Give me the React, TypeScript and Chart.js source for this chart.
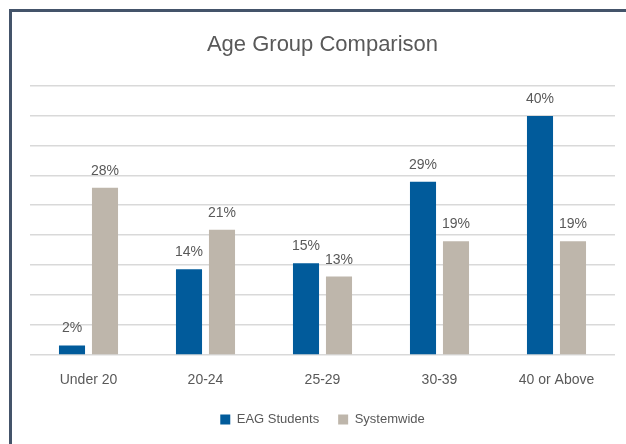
import React, { useEffect, useRef } from "react";
import { Chart, registerables } from "chart.js";

Chart.register(...registerables);

const categories: string[] = ["Under 20", "20-24", "25-29", "30-39", "40 or Above"];
const eagStudents: number[] = [1.6, 14.3, 15.3, 28.9, 39.9];
const systemwide: number[] = [27.9, 20.9, 13.1, 19.0, 19.0];
const seriesNames: string[] = ["EAG Students", "Systemwide"];
const chartTitle = "Age Group Comparison";

const TEXT = "#595959";
const FONT = "'Liberation Sans', Arial, sans-serif";

const dataLabelPlugin = {
  id: "dataLabels",
  afterDatasetsDraw(chart: any) {
    const ctx = chart.ctx;
    ctx.save();
    ctx.font = `14px ${FONT}`;
    ctx.fillStyle = TEXT;
    ctx.textAlign = "center";
    ctx.textBaseline = "alphabetic";
    chart.data.datasets.forEach((ds: any, di: number) => {
      const meta = chart.getDatasetMeta(di);
      meta.data.forEach((el: any, i: number) => {
        const v = ds.data[i] as number;
        ctx.fillText(`${Math.round(v)}%`, el.x, el.y - 13);
      });
    });
    ctx.restore();
  },
};

export default function App() {
  const ref = useRef<HTMLCanvasElement | null>(null);
  useEffect(() => {
    if (!ref.current) return;
    Chart.defaults.font.family = FONT;
    const chart = new Chart(ref.current, {
      type: "bar",
      data: {
        labels: categories,
        datasets: [
          {
            label: seriesNames[0],
            data: eagStudents,
            backgroundColor: "#015B9B",
            categoryPercentage: 0.564,
            barPercentage: 0.79,
          },
          {
            label: seriesNames[1],
            data: systemwide,
            backgroundColor: "#BEB6AB",
            categoryPercentage: 0.564,
            barPercentage: 0.79,
          },
        ],
      },
      options: {
        responsive: false,
        animation: false,
        layout: { padding: { left: 30, right: 11, top: 0, bottom: 8 } },
        scales: {
          x: {
            grid: { display: false, drawTicks: false },
            border: { display: false },
            ticks: { color: TEXT, font: { size: 14, family: FONT }, padding: 17 },
            afterFit: (scale: any) => {
              scale.height = 34;
            },
          },
          y: {
            min: 0,
            max: 45,
            ticks: { display: false, stepSize: 5 },
            grid: { color: "#D9D9D9", lineWidth: 1.5, drawTicks: false },
            border: { display: false },
          },
        },
        plugins: {
          title: {
            display: true,
            text: chartTitle,
            color: TEXT,
            font: { size: 22, weight: "normal", family: FONT },
            padding: { top: 32, bottom: 27 },
          },
          legend: {
            position: "bottom",
            title: { display: true, text: "", font: { size: 5, lineHeight: 1 }, padding: 0 },
            labels: {
              color: TEXT,
              boxWidth: 10,
              boxHeight: 10,
              padding: 19,
              font: { size: 13, family: FONT },
            },
          },
          tooltip: { enabled: false },
        },
      },
      plugins: [dataLabelPlugin],
    } as any);
    return () => chart.destroy();
  }, []);

  return (
    <div
      style={{
        position: "fixed",
        left: 0,
        top: 0,
        width: 626,
        height: 444,
        overflow: "hidden",
        background: "#ffffff",
      }}
    >
      <div
        style={{
          position: "absolute",
          left: 9,
          top: 9,
          width: 700,
          height: 500,
          border: "3px solid #44546A",
          boxSizing: "border-box",
        }}
      />
      <canvas
        ref={ref}
        width={626}
        height={444}
        style={{ position: "absolute", left: 0, top: 0, width: 626, height: 444 }}
      />
    </div>
  );
}
